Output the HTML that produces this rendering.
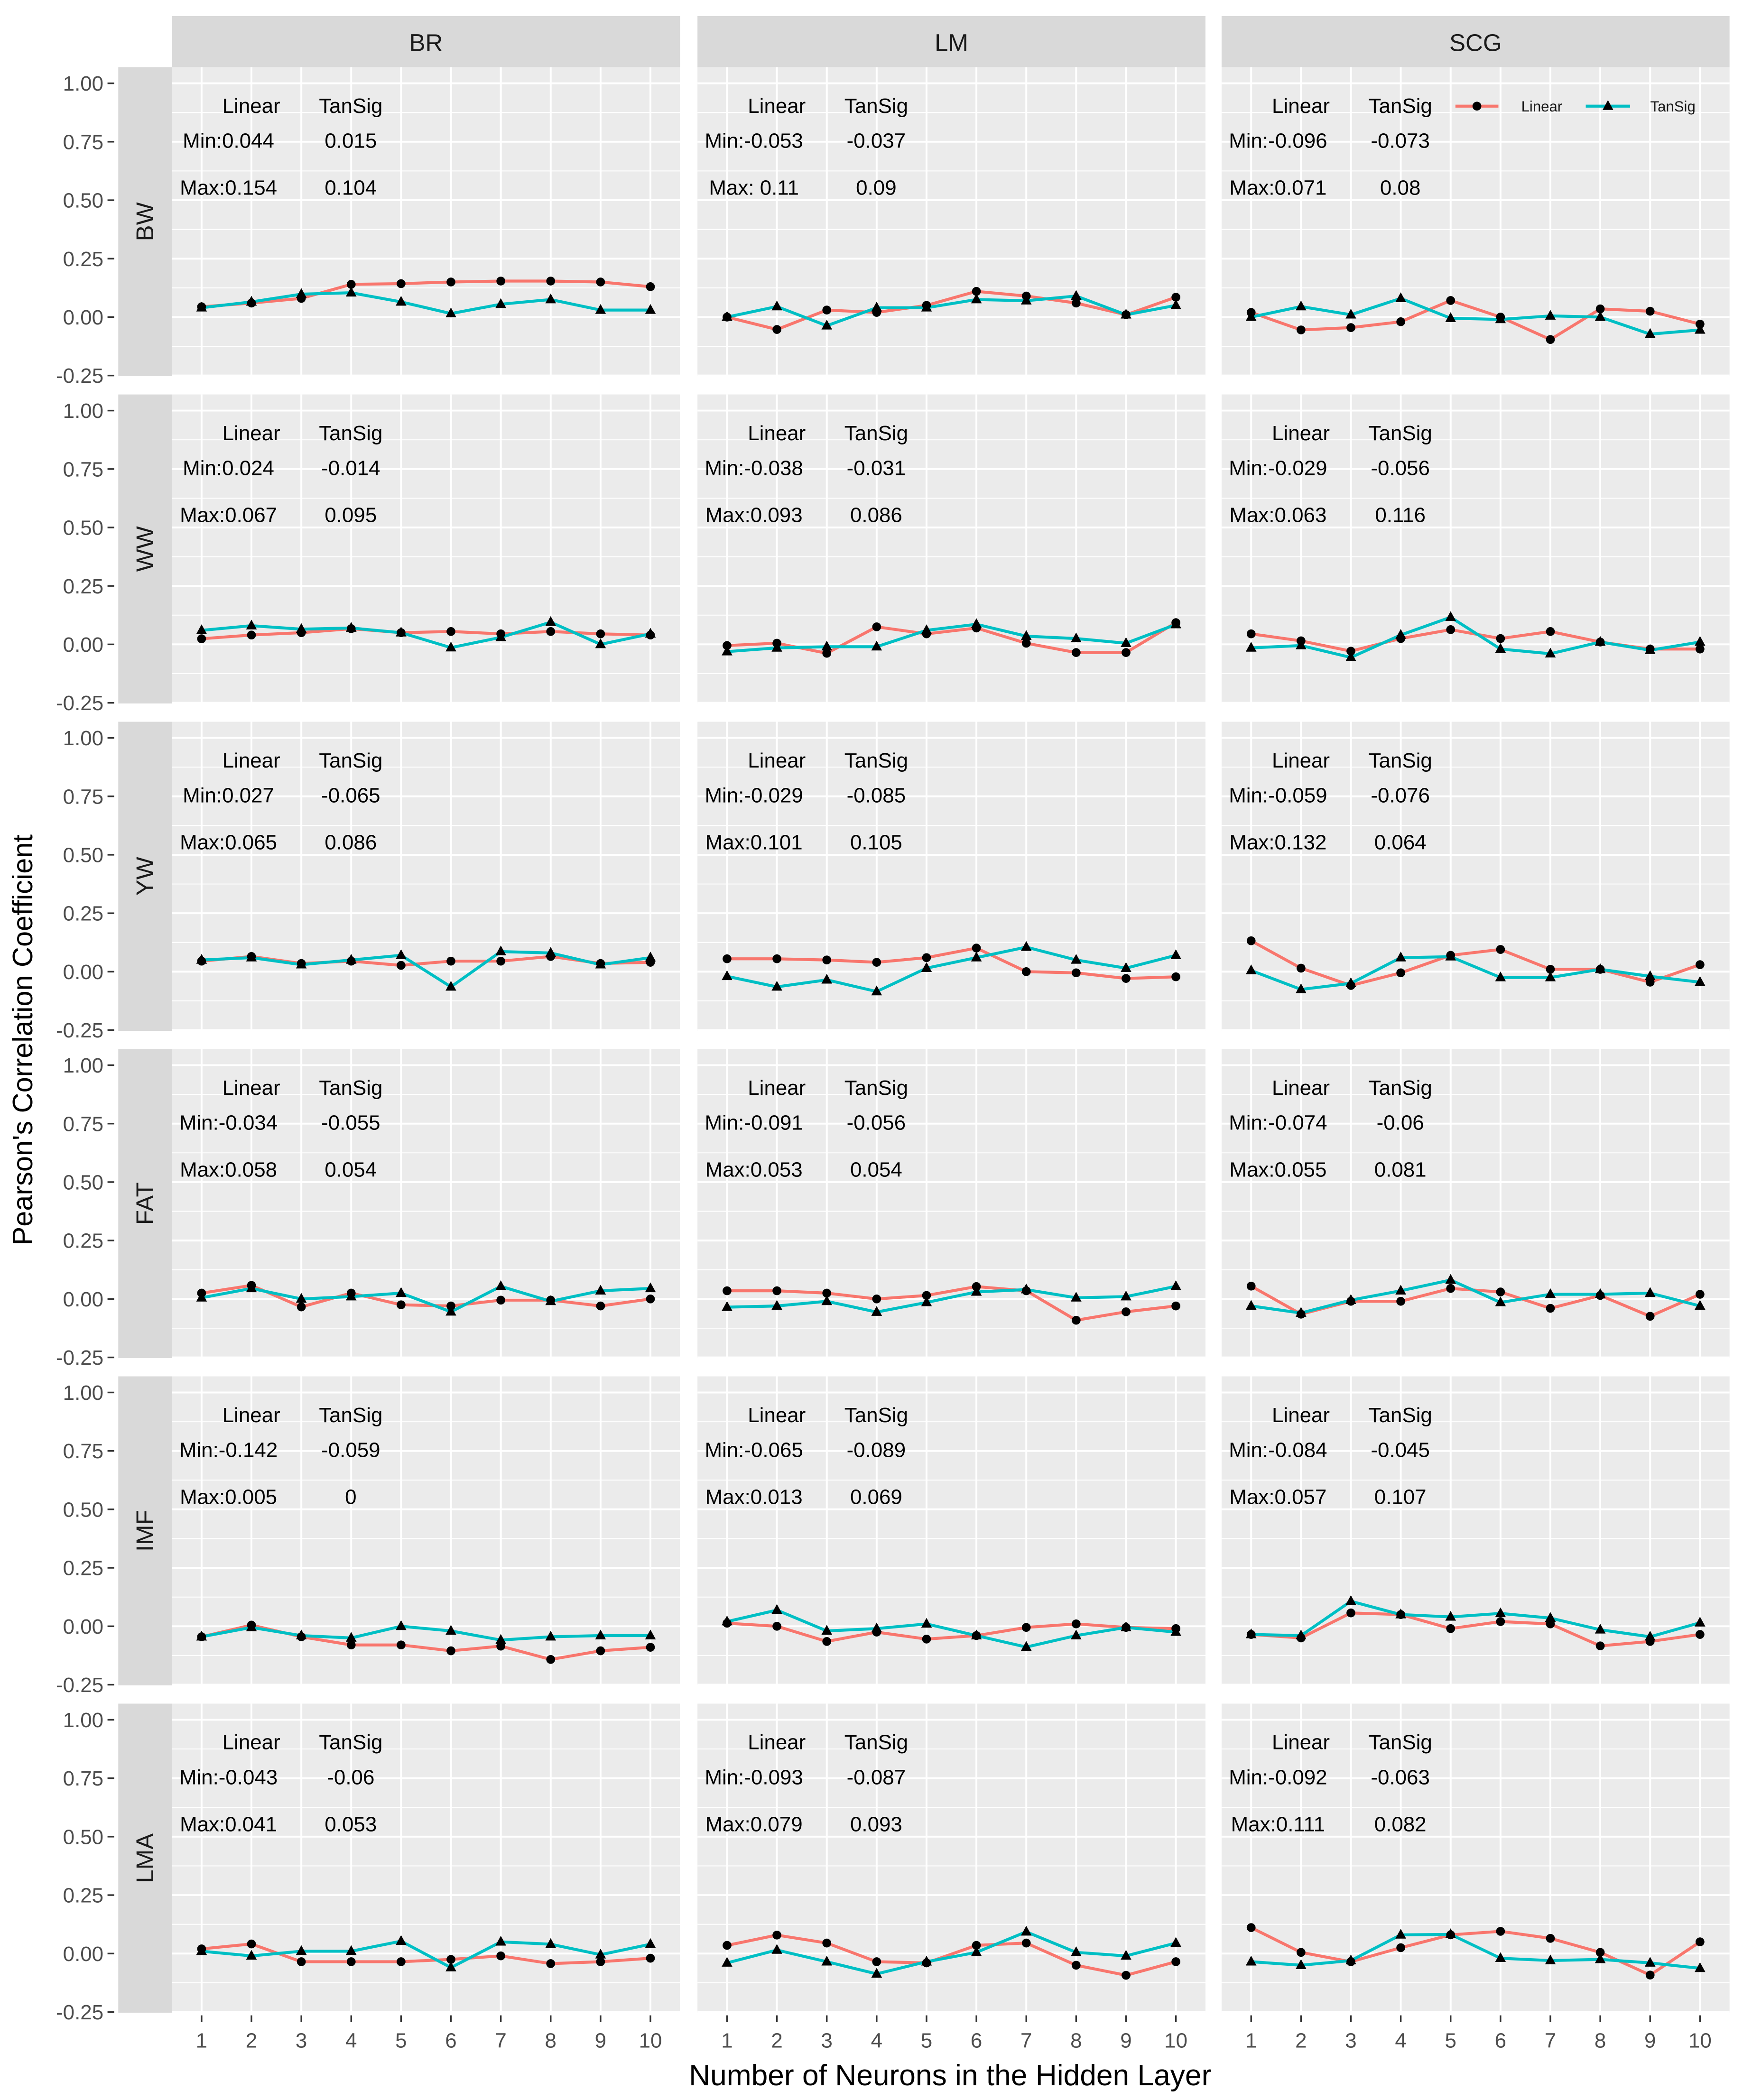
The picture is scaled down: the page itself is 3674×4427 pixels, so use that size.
<!DOCTYPE html>
<html><head><meta charset="utf-8">
<style>
html,body{margin:0;padding:0;background:#fff;}
svg{display:block;}
text{font-family:"Liberation Sans",sans-serif;}
</style></head>
<body>
<svg id="chart" xmlns="http://www.w3.org/2000/svg" width="3674" height="4427" viewBox="0 0 1297 1563" preserveAspectRatio="none">
<rect x="0" y="0" width="1297" height="1563" fill="#fff"/>
</svg>
<script>
const algorithms = ["BR","LM","SCG"];
const traits = ["BW","WW","YW","FAT","IMF","LMA"];
const neurons = [1,2,3,4,5,6,7,8,9,10];
const yTicks = [1.00,0.75,0.50,0.25,0.00,-0.25];
const yTickLabels = ["1.00","0.75","0.50","0.25","0.00","-0.25"];

// Linear series [trait][algorithm]
const linearBW = [[0.044,0.06,0.08,0.14,0.143,0.15,0.154,0.154,0.15,0.13],[0.0,-0.053,0.03,0.02,0.05,0.11,0.09,0.06,0.01,0.085],[0.02,-0.055,-0.045,-0.02,0.071,0.0,-0.096,0.035,0.025,-0.03]];
const tansigBW = [[0.04,0.065,0.098,0.104,0.065,0.015,0.055,0.075,0.03,0.03],[0.0,0.045,-0.037,0.04,0.04,0.075,0.07,0.09,0.01,0.05],[0.0,0.045,0.01,0.08,-0.005,-0.01,0.005,0.0,-0.073,-0.055]];
const linearWW = [[0.024,0.04,0.05,0.067,0.05,0.055,0.045,0.055,0.045,0.04],[-0.005,0.005,-0.038,0.075,0.045,0.07,0.005,-0.035,-0.035,0.093],[0.045,0.015,-0.029,0.025,0.063,0.025,0.055,0.01,-0.02,-0.02]];
const tansigWW = [[0.06,0.08,0.065,0.07,0.05,-0.014,0.03,0.095,0.0,0.045],[-0.031,-0.015,-0.01,-0.01,0.06,0.086,0.035,0.025,0.005,0.085],[-0.015,-0.005,-0.056,0.04,0.116,-0.02,-0.04,0.01,-0.025,0.01]];
const linearYW = [[0.045,0.065,0.035,0.045,0.027,0.045,0.045,0.065,0.035,0.04],[0.055,0.055,0.05,0.04,0.06,0.101,0.0,-0.005,-0.029,-0.022],[0.132,0.015,-0.059,-0.005,0.07,0.095,0.01,0.01,-0.045,0.03]];
const tansigYW = [[0.05,0.06,0.03,0.05,0.07,-0.065,0.086,0.08,0.03,0.06],[-0.02,-0.065,-0.035,-0.085,0.015,0.06,0.105,0.05,0.015,0.07],[0.005,-0.076,-0.05,0.06,0.064,-0.025,-0.025,0.01,-0.02,-0.045]];
const linearFAT = [[0.025,0.058,-0.034,0.025,-0.025,-0.03,-0.005,-0.005,-0.03,0.0],[0.035,0.035,0.025,0.0,0.015,0.053,0.035,-0.091,-0.055,-0.03],[0.055,-0.065,-0.01,-0.01,0.045,0.03,-0.04,0.015,-0.074,0.02]];
const tansigFAT = [[0.005,0.045,0.0,0.01,0.025,-0.055,0.054,-0.01,0.035,0.045],[-0.035,-0.03,-0.01,-0.056,-0.015,0.03,0.04,0.005,0.01,0.054],[-0.03,-0.06,-0.005,0.035,0.081,-0.015,0.02,0.02,0.025,-0.03]];
const linearIMF = [[-0.045,0.005,-0.045,-0.08,-0.08,-0.105,-0.085,-0.142,-0.105,-0.09],[0.013,0.0,-0.065,-0.025,-0.055,-0.04,-0.005,0.01,-0.005,-0.01],[-0.035,-0.05,0.057,0.05,-0.01,0.02,0.01,-0.084,-0.065,-0.035]];
const tansigIMF = [[-0.045,-0.005,-0.04,-0.05,0.0,-0.02,-0.059,-0.045,-0.04,-0.04],[0.02,0.069,-0.02,-0.01,0.01,-0.04,-0.089,-0.04,-0.005,-0.025],[-0.035,-0.04,0.107,0.05,0.04,0.055,0.035,-0.015,-0.045,0.015]];
const linearLMA = [[0.02,0.041,-0.035,-0.035,-0.035,-0.025,-0.01,-0.043,-0.035,-0.02],[0.035,0.079,0.045,-0.035,-0.04,0.035,0.045,-0.05,-0.093,-0.035],[0.111,0.005,-0.035,0.025,0.08,0.095,0.065,0.005,-0.092,0.05]];
const tansigLMA = [[0.01,-0.01,0.01,0.01,0.053,-0.06,0.05,0.04,-0.005,0.04],[-0.04,0.015,-0.035,-0.087,-0.035,0.005,0.093,0.005,-0.01,0.045],[-0.035,-0.05,-0.03,0.08,0.082,-0.02,-0.03,-0.025,-0.04,-0.063]];

const linearMin = [["0.044","-0.053","-0.096"],["0.024","-0.038","-0.029"],["0.027","-0.029","-0.059"],["-0.034","-0.091","-0.074"],["-0.142","-0.065","-0.084"],["-0.043","-0.093","-0.092"]];
const tansigMin = [["0.015","-0.037","-0.073"],["-0.014","-0.031","-0.056"],["-0.065","-0.085","-0.076"],["-0.055","-0.056","-0.06"],["-0.059","-0.089","-0.045"],["-0.06","-0.087","-0.063"]];
const linearMax = [["0.154"," 0.11","0.071"],["0.067","0.093","0.063"],["0.065","0.101","0.132"],["0.058","0.053","0.055"],["0.005","0.013","0.057"],["0.041","0.079","0.111"]];
const tansigMax = [["0.104","0.09","0.08"],["0.095","0.086","0.116"],["0.086","0.105","0.064"],["0.054","0.054","0.081"],["0","0.069","0.107"],["0.053","0.093","0.082"]];

const linearSeries = [linearBW,linearWW,linearYW,linearFAT,linearIMF,linearLMA];
const tansigSeries = [tansigBW,tansigWW,tansigYW,tansigFAT,tansigIMF,tansigLMA];

const NS="http://www.w3.org/2000/svg";
const svg=document.getElementById('chart');
function mk(tag,attrs,parent){const e=document.createElementNS(NS,tag);for(const k in attrs)e.setAttribute(k,attrs[k]);(parent||svg).appendChild(e);return e;}
function txt(str,attrs,parent){const e=mk('text',attrs,parent);e.textContent=str;return e;}

const colLeft=[128,519,909], colW=378;
const rowTop0=50, rowStep=243.6, rowH=230;
function xScale(c,n){return colLeft[c]+22+(n-1)*(colW-44)/9;}
function yScale(r,v){return rowTop0+r*rowStep+186-v*174;}

// column strips
algorithms.forEach((a,c)=>{
  const g=mk('g',{});
  
  
  mk('rect',{x:colLeft[c],y:12,width:colW,height:38,fill:'#d9d9d9'},g);
  txt(a,{x:colLeft[c]+colW/2,y:38,'text-anchor':'middle','font-size':18,fill:'#1a1a1a'},g);
});

traits.forEach((t,r)=>{
  const top=rowTop0+r*rowStep;
  const rs=mk('g',{});
  
  
  mk('rect',{x:88,y:top,width:40,height:rowH,fill:'#d9d9d9'},rs);
  txt(t,{x:0,y:0,transform:`translate(114,${top+rowH/2}) rotate(-90)`,'text-anchor':'middle','font-size':18,fill:'#1a1a1a'},rs);
  // y axis ticks
  const ya=mk('g',{});
  
  
  yTicks.forEach((v,i)=>{
    const y=yScale(r,v);
    mk('line',{x1:80,x2:85,y1:y,y2:y,stroke:'#333','stroke-width':1.2},ya);
    txt(yTickLabels[i],{x:77,y:y+5.5,'text-anchor':'end','font-size':15.5,fill:'#4d4d4d'},ya);
  });
  algorithms.forEach((a,c)=>{
    const L=colLeft[c];
    const p=mk('g',{});
    
    
    mk('rect',{x:L,y:top,width:colW,height:rowH,fill:'#ebebeb'},p);
    for(let i=0;i<yTicks.length-1;i++){
      const ym=yScale(r,(yTicks[i]+yTicks[i+1])/2);
      mk('line',{x1:L,x2:L+colW,y1:ym,y2:ym,stroke:'#fff','stroke-width':0.7},p);
    }
    yTicks.forEach(v=>{const y=yScale(r,v);mk('line',{x1:L,x2:L+colW,y1:y,y2:y,stroke:'#fff','stroke-width':1.4},p);});
    neurons.forEach(n=>{const x=xScale(c,n);mk('line',{x1:x,x2:x,y1:top,y2:top+rowH,stroke:'#fff','stroke-width':1.4},p);});
    // annotations
    const an=mk('g',{'font-size':15.5,fill:'#000'},p);
    
    
    txt('Linear',{x:L+59,y:top+34,'text-anchor':'middle'},an);
    txt('TanSig',{x:L+133,y:top+34,'text-anchor':'middle'},an);
    txt('Min:'+linearMin[r][c],{x:L+42,y:top+60,'text-anchor':'middle'},an);
    txt(tansigMin[r][c],{x:L+133,y:top+60,'text-anchor':'middle'},an);
    txt('Max:'+linearMax[r][c],{x:L+42,y:top+95,'text-anchor':'middle'},an);
    txt(tansigMax[r][c],{x:L+133,y:top+95,'text-anchor':'middle'},an);
    // series
    const lin=linearSeries[r][c], tan=tansigSeries[r][c];
    const lp=mk('polyline',{points:lin.map((v,i)=>xScale(c,neurons[i])+','+yScale(r,v)).join(' '),fill:'none',stroke:'#F8766D','stroke-width':2.2},p);
    
    
    const tp=mk('polyline',{points:tan.map((v,i)=>xScale(c,neurons[i])+','+yScale(r,v)).join(' '),fill:'none',stroke:'#00BFC4','stroke-width':2.2},p);
    
    
    lin.forEach((v,i)=>{
      const pt=mk('circle',{cx:xScale(c,neurons[i]),cy:yScale(r,v),r:3.3,fill:'#000'},p);
      
      
    });
    tan.forEach((v,i)=>{
      const x=xScale(c,neurons[i]), y=yScale(r,v);
      const pt=mk('polygon',{points:`${x},${y-4.5} ${x-4},${y+2.8} ${x+4},${y+2.8}`,fill:'#000'},p);
      
      
    });
  });
});

// x axes
algorithms.forEach((a,c)=>{
  const g=mk('g',{});
  
  
  neurons.forEach(n=>{
    const x=xScale(c,n);
    mk('line',{x1:x,x2:x,y1:1500,y2:1505,stroke:'#333','stroke-width':1.2},g);
    txt(String(n),{x:x,y:1524,'text-anchor':'middle','font-size':15.5,fill:'#4d4d4d'},g);
  });
});

// legend
const lg=mk('g',{});


mk('line',{x1:1083,x2:1115,y1:79,y2:79,stroke:'#F8766D','stroke-width':2.2},lg);
mk('circle',{cx:1099,cy:79,r:3.3,fill:'#000'},lg);
txt('Linear',{x:1132,y:83,'font-size':11,fill:'#1a1a1a'},lg);
mk('line',{x1:1180,x2:1213,y1:79,y2:79,stroke:'#00BFC4','stroke-width':2.2},lg);
mk('polygon',{points:'1196.5,74.5 1192.5,81.8 1200.5,81.8',fill:'#000'},lg);
txt('TanSig',{x:1228,y:83,'font-size':11,fill:'#1a1a1a'},lg);

// axis titles
const yt=txt("Pearson's Correlation Coefficient",{x:0,y:0,transform:'translate(24,774) rotate(-90)','text-anchor':'middle','font-size':21,fill:'#000'});


const xt=txt("Number of Neurons in the Hidden Layer",{x:707,y:1552,'text-anchor':'middle','font-size':22,fill:'#000'});


</script>
</body></html>
